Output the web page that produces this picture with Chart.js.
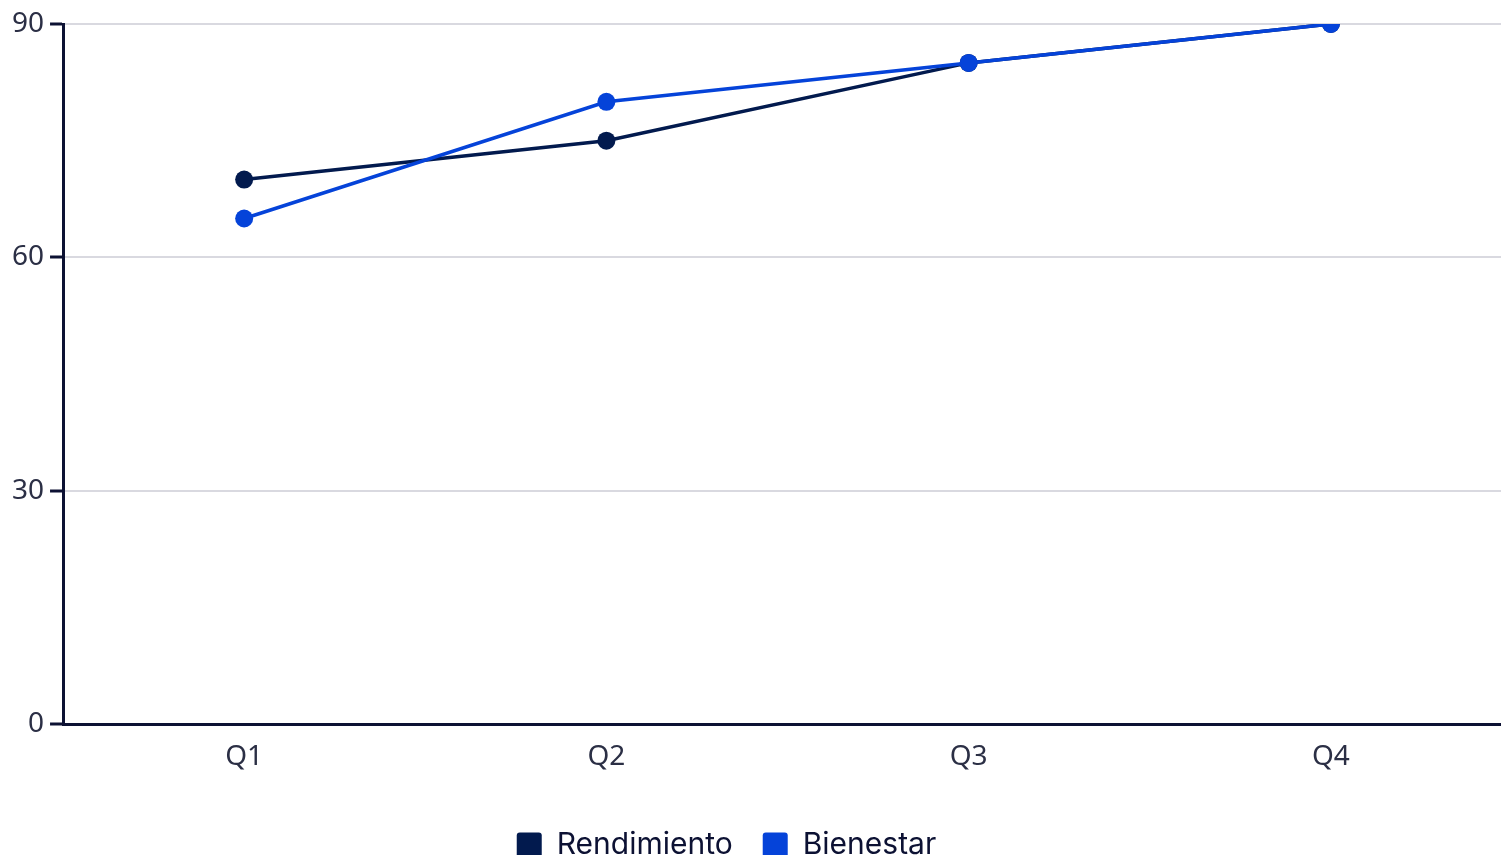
<!DOCTYPE html>
<html>
<head>
<meta charset="utf-8">
<script src="https://cdn.jsdelivr.net/npm/chart.js@4.4.1/dist/chart.umd.min.js"></script>
<style>
  html, body { margin: 0; padding: 0; background: #fff; width: 1501px; height: 855px; overflow: hidden; }
  #clip { position: absolute; left: 0; top: 0; width: 1501px; height: 855px; overflow: hidden; }
  canvas { display: block; }
</style>
</head>
<body>
<div id="clip"><canvas id="myChart" width="1521" height="870"></canvas></div>
<script>
const quarters = ['Q1', 'Q2', 'Q3', 'Q4'];
const rendimiento = [70, 75, 85, 90];
const bienestar = [65, 80, 85, 90];
const yTicks = [0, 30, 60, 90];

const navy = '#021a4e';
const blue = '#0543d9';
const axisColor = '#0c1133';
const tickFont = { family: '"Noto Sans", sans-serif', size: 28 };

// nudge the legend left to sit where the original had it
const legendShift = {
  id: 'legendShift',
  afterLayout(chart) {
    const lg = chart.legend;
    lg.left -= 37;
    lg.right -= 37;
  },
};

new Chart(document.getElementById('myChart'), {
  type: 'line',
  data: {
    labels: quarters,
    datasets: [
      {
        label: 'Rendimiento',
        data: rendimiento,
        order: 2,
        borderColor: navy,
        backgroundColor: navy,
        borderWidth: 3.5,
        pointRadius: 9,
        pointHoverRadius: 9,
        pointBorderWidth: 0,
        tension: 0,
      },
      {
        label: 'Bienestar',
        data: bienestar,
        order: 1,
        borderColor: blue,
        backgroundColor: blue,
        borderWidth: 3.5,
        pointRadius: 9,
        pointHoverRadius: 9,
        pointBorderWidth: 0,
        tension: 0,
      },
    ],
  },
  options: {
    responsive: false,
    animation: false,
    layout: { padding: { top: 24, left: 6, right: 0, bottom: 0 } },
    plugins: {
      legend: {
        position: 'bottom',
        title: { display: true, text: '', font: { size: 1 }, padding: { top: 0, bottom: 21 } },
        labels: {
          boxWidth: 25,
          boxHeight: 25,
          padding: 30,
          color: '#0c1133',
          font: { family: 'Inter, "Noto Sans", sans-serif', size: 30 },
          generateLabels: (chart) => chart.data.datasets.map((ds, i) => ({
            text: ds.label,
            fillStyle: ds.borderColor,
            strokeStyle: ds.borderColor,
            fontColor: '#0c1133',
            lineWidth: 0,
            borderRadius: 3,
            datasetIndex: i,
          })),
        },
      },
      tooltip: { enabled: false },
    },
    scales: {
      x: {
        offset: true,
        grid: { display: false, drawTicks: true, tickLength: 12, tickColor: axisColor, tickWidth: 3 },
        border: { display: true, color: axisColor, width: 3 },
        ticks: { color: '#2b2f45', padding: 4, font: tickFont },
      },
      y: {
        min: 0,
        max: 90,
        afterBuildTicks: (axis) => { axis.ticks = yTicks.map(v => ({ value: v })); },
        grid: { color: '#d9d9e0', lineWidth: 2, tickLength: 13, tickColor: axisColor, tickWidth: 3 },
        border: { display: true, color: axisColor, width: 3 },
        ticks: { color: '#2b2f45', padding: 6, font: tickFont },
      },
    },
  },
  plugins: [legendShift],
});
</script>
</body>
</html>
